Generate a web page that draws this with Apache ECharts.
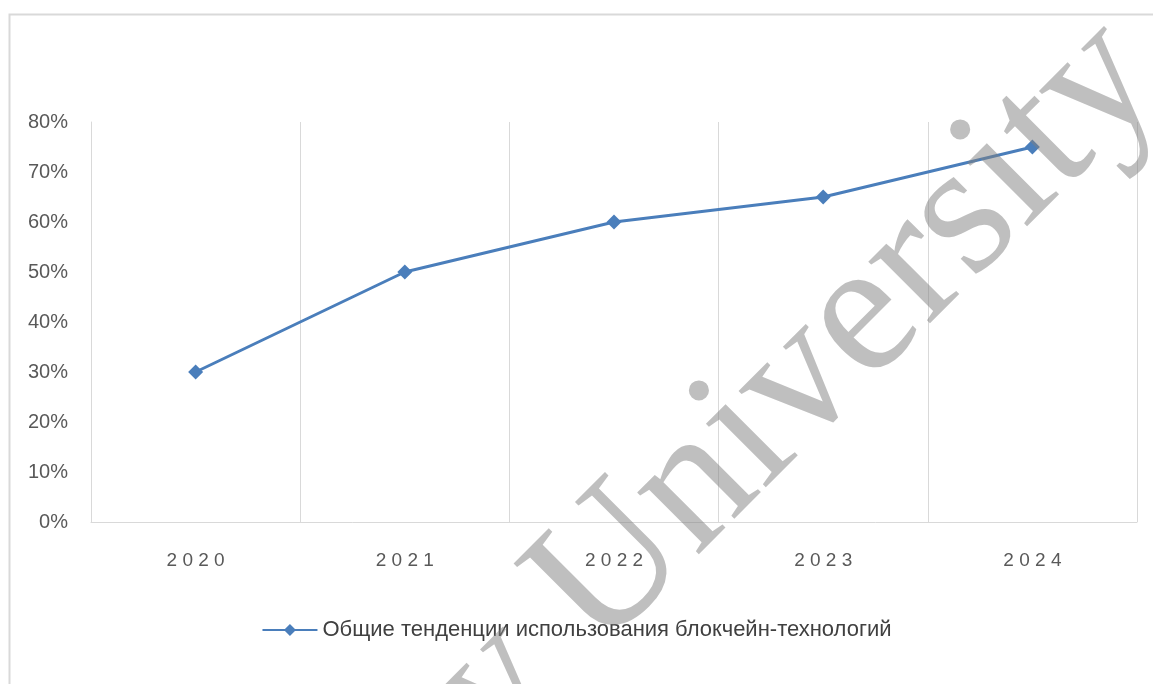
<!DOCTYPE html>
<html><head><meta charset="utf-8">
<script src="https://cdn.jsdelivr.net/npm/echarts@6/dist/echarts.min.js"></script>
<style>html,body{margin:0;padding:0;background:#fff}#c{width:1153px;height:684px}</style>
</head><body><div id="c"></div>
<script>
const categories = ['2020', '2021', '2022', '2023', '2024'];
const seriesName = 'Общие тенденции использования блокчейн-технологий';
const values = [30, 50, 60, 65, 75];
const yTicks = { min: 0, max: 80, interval: 10 };
const watermark = 'y University';

const chart = echarts.init(document.getElementById('c'), null, { renderer: 'canvas' });
chart.setOption({
  animation: false,
  backgroundColor: '#ffffff',
  grid: { left: 91, right: 16, top: 122, bottom: 162, containLabel: false },
  xAxis: {
    type: 'category', data: categories, boundaryGap: true,
    axisLine: { show: true, lineStyle: { color: '#d9d9d9', width: 1 } },
    axisTick: { show: false },
    splitLine: { show: true, lineStyle: { color: '#d9d9d9', width: 1 } },
    axisLabel: { color: '#595959', fontSize: 19, fontFamily: 'Liberation Sans', margin: 29,
      formatter: v => v.split('').join(' ') }
  },
  yAxis: {
    type: 'value', min: yTicks.min, max: yTicks.max, interval: yTicks.interval,
    axisLine: { show: true, lineStyle: { color: '#d9d9d9', width: 1 } },
    axisTick: { show: false },
    splitLine: { show: false },
    axisLabel: { color: '#595959', fontSize: 20, fontFamily: 'Liberation Sans', margin: 23, formatter: '{value}%' }
  },
  legend: {
    bottom: 38, left: 'center',
    itemWidth: 55, itemHeight: 15, itemGap: 10,
    textStyle: { color: '#404040', fontSize: 22, fontFamily: 'Liberation Sans' },
    data: [seriesName]
  },
  series: [{
    name: seriesName, type: 'line', data: values,
    symbol: 'diamond', symbolSize: 15,
    lineStyle: { color: '#4a7ebb', width: 3 },
    itemStyle: { color: '#4a7ebb' }
  }],
  graphic: [
    { type: 'rect', silent: true, z: 0,
      shape: { x: 9.5, y: 14.5, width: 1300, height: 900 },
      style: { fill: 'none', stroke: '#d9d9d9', lineWidth: 2 } },
    { type: 'text', silent: true, z: 100,
      x: 496, y: 552, rotation: 0.785,
      style: { text: watermark, x: -142, y: 0, align: 'left', verticalAlign: 'top',
        fontFamily: 'Liberation Serif', fontSize: 190, fill: 'rgba(128,128,128,0.5)' } }
  ]
});
</script></body></html>
